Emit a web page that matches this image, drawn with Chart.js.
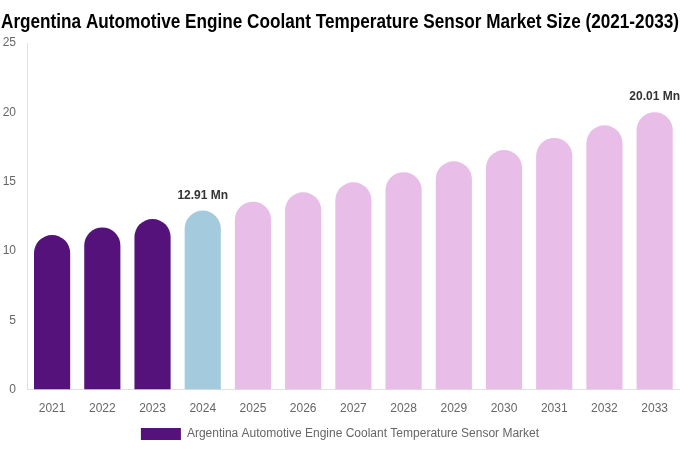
<!DOCTYPE html>
<html>
<head>
<meta charset="utf-8">
<script src="https://cdn.jsdelivr.net/npm/chart.js@4.4.0/dist/chart.umd.min.js"></script>
<style>
  html, body { margin: 0; padding: 0; background: #fff; }
  #wrap { width: 680px; height: 450px; }
</style>
</head>
<body>
<div id="wrap"><canvas id="MarketChart"></canvas></div>
<script>
const years = ["2021", "2022", "2023", "2024", "2025", "2026", "2027", "2028", "2029", "2030", "2031", "2032", "2033"];
const marketSize = [11.15, 11.7, 12.3, 12.91, 13.55, 14.23, 14.95, 15.68, 16.47, 17.28, 18.15, 19.06, 20.01];
const barColors = ["#54127a", "#54127a", "#54127a", "#a4cade", "#e8bde8", "#e8bde8", "#e8bde8", "#e8bde8", "#e8bde8", "#e8bde8", "#e8bde8", "#e8bde8", "#e8bde8"];
const labelledYears = ["2024", "2033"];
const yTicks = [0, 5, 10, 15, 20, 25];
const titleText = "Argentina Automotive Engine Coolant Temperature Sensor Market Size (2021-2033)";

const baseFont = "'Liberation Sans', Arial, sans-serif";

// labels on top of chosen bars
const valueLabels = {
  id: "valueLabels",
  afterDatasetsDraw(chart) {
    const ctx = chart.ctx;
    const meta = chart.getDatasetMeta(0);
    ctx.save();
    ctx.font = "bold 12px " + baseFont;
    ctx.fillStyle = "#333";
    ctx.textAlign = "center";
    ctx.textBaseline = "bottom";
    meta.data.forEach((bar, i) => {
      if (!labelledYears.includes(years[i])) return;
      ctx.fillText(marketSize[i].toFixed(2) + " Mn", bar.x, bar.y - 9);
    });
    ctx.restore();
  },
};

// narrow bold title: the built-in title only keeps the space, this draws it squeezed
const narrowTitle = {
  id: "narrowTitle",
  afterDraw(chart) {
    const ctx = chart.ctx;
    const block = chart.titleBlock;
    const cy = (block.top + block.bottom) / 2 + 1;
    ctx.save();
    ctx.font = "bold 21px " + baseFont;
    ctx.fillStyle = "#000";
    ctx.textBaseline = "middle";
    ctx.textAlign = "center";
    const w = ctx.measureText(titleText).width;
    const s = Math.min(1, 678 / w);
    ctx.translate(chart.width / 2, cy);
    ctx.scale(s, 1);
    ctx.fillText(titleText, 0, 0);
    ctx.restore();
  },
};

const ctx = document.getElementById("MarketChart").getContext("2d");
new Chart(ctx, {
  type: "bar",
  data: {
    labels: years,
    datasets: [
      {
        label: "Argentina Automotive Engine Coolant Temperature Sensor Market",
        data: marketSize,
        backgroundColor: barColors,
        borderRadius: { topLeft: 18, topRight: 18 },
        borderSkipped: "bottom",
        barPercentage: 0.8,
        categoryPercentage: 0.9,
      },
    ],
  },
  options: {
    responsive: true,
    maintainAspectRatio: false,
    animation: false,
    layout: { padding: { left: 0, right: 0, top: 0, bottom: 0 } },
    scales: {
      x: {
        grid: { display: false, drawTicks: false },
        border: { display: true, color: "#e0e0e0" },
        ticks: { color: "#666", font: { size: 12, family: baseFont }, padding: 12 },
        afterFit: (axis) => {
          axis.height -= 3;
        },
      },
      y: {
        min: 0,
        max: 25,
        afterBuildTicks: (axis) => {
          axis.ticks = yTicks.map((v) => ({ value: v }));
        },
        afterFit: (axis) => {
          axis.width = 27;
        },
        grid: { display: false, drawTicks: false },
        border: { display: true, color: "#e0e0e0" },
        ticks: { color: "#666", font: { size: 12, family: baseFont }, padding: 11 },
      },
    },
    plugins: {
      title: {
        display: true,
        text: titleText,
        color: "rgba(0,0,0,0)",
        font: { size: 20, weight: "bold", family: baseFont },
        padding: { top: 10, bottom: 9 },
      },
      legend: {
        position: "bottom",
        labels: {
          boxWidth: 40,
          boxHeight: 12,
          padding: 3,
          color: "#666",
          font: { size: 12, family: baseFont },
          generateLabels: (chart) => [
            {
              text: chart.data.datasets[0].label,
              fillStyle: barColors[0],
              strokeStyle: barColors[0],
              fontColor: "#666",
              lineWidth: 0,
              datasetIndex: 0,
            },
          ],
        },
      },
      tooltip: { enabled: false },
    },
  },
  plugins: [valueLabels, narrowTitle],
});
</script>
</body>
</html>
